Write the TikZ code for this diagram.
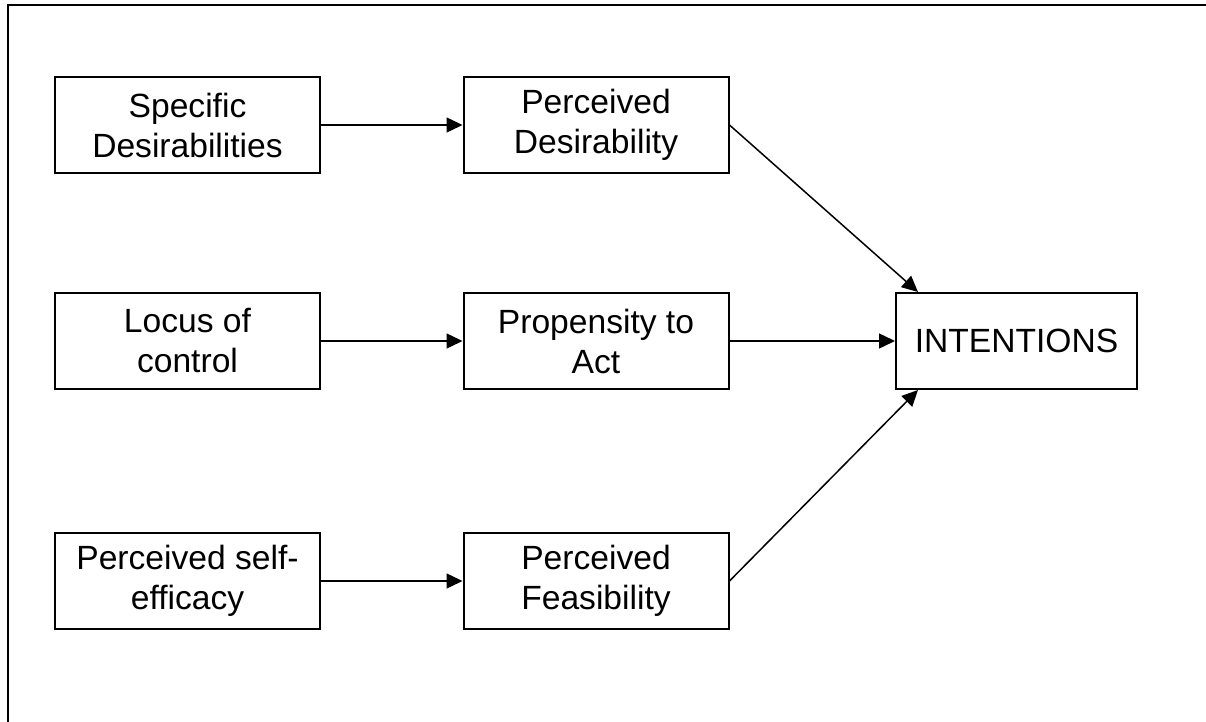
\documentclass[tikz,border=0pt]{standalone}
\usepackage{fontspec}
\setmainfont{Liberation Sans}
\usetikzlibrary{arrows.meta}
\tikzstyle{block}=[draw, line width=1pt, minimum width=132.5pt, minimum height=48pt, inner sep=0pt, align=center, font=\fontsize{16.8}{20}\selectfont]
\tikzstyle{link}=[line width=0.75pt, -{Triangle[length=8pt,width=7.5pt]}]

\begin{document}
\begin{tikzpicture}[x=0.5pt, y=-0.5pt]
\useasboundingbox (0,0) rectangle (1206,722);
\draw[line width=1pt] (1206,5) -- (7.5,5) -- (7.5,722);
\node[block] (SD) at (187.5,125) {Specific\\Desirabilities};
\node[block] (LC) at (187.5,341) {Locus of\\control};
\node[block] (PSE) at (187.5,581) {Perceived self-\\efficacy};
\node[block] (PD) at (596,125) {Perceived\\Desirability};
\node[block] (PA) at (596,341) {Propensity to\\Act};
\node[block] (PF) at (596,581) {Perceived\\Feasibility};
\node[block, minimum width=120.5pt] (INT) at (1016.5,341) {INTENTIONS};
\draw[link] (SD) -- (PD);
\draw[link] (LC) -- (PA);
\draw[link] (PSE) -- (PF);
\draw[link] (PA) -- (INT);
\draw[link] (PD.east) -- ([xshift=11.5pt]INT.north west);
\draw[link] (PF.east) -- ([xshift=11.5pt]INT.south west);
\end{tikzpicture}
\end{document}
